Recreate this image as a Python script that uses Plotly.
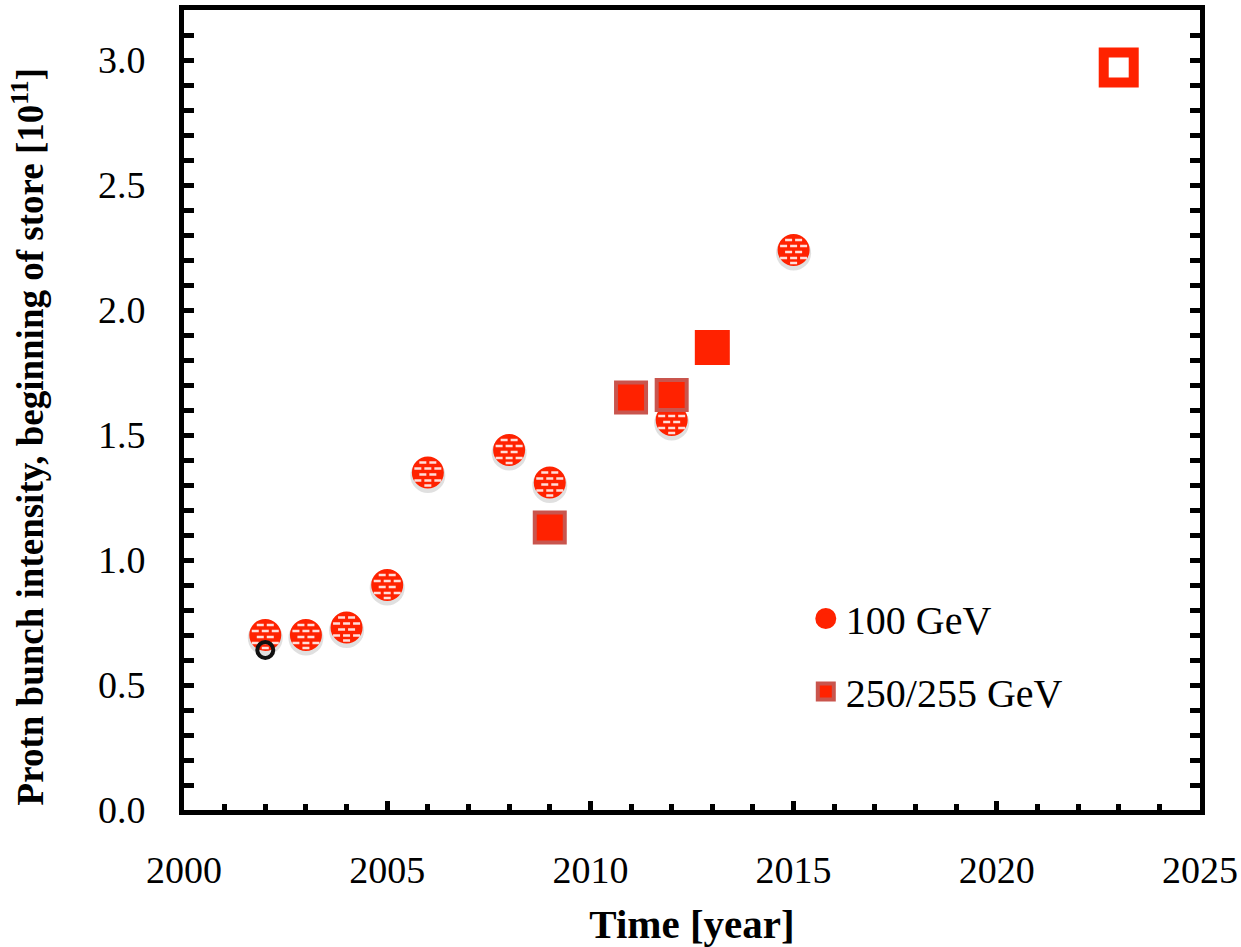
import plotly.graph_objects as go

# Proton bunch intensity at the beginning of store, in units of 1e11
years_100 = [2002, 2003, 2004, 2005, 2006, 2008, 2009, 2012, 2015]
intensity_100 = [0.70, 0.70, 0.73, 0.90, 1.35, 1.44, 1.31, 1.56, 2.24]

years_250 = [2009, 2011, 2012]
intensity_250 = [1.13, 1.65, 1.66]

years_250_new = [2013]
intensity_250_new = [1.85]

years_goal = [2023]
intensity_goal = [2.97]

years_extra = [2002]
intensity_extra = [0.64]

x_ticks = [2000, 2005, 2010, 2015, 2020, 2025]
y_ticks = [0.0, 0.5, 1.0, 1.5, 2.0, 2.5, 3.0]

RED = "#ff2200"
FONT = "Liberation Serif"

# pixel scale of the plot area, used to place the dotted texture on the circles
PX_PER_YEAR = 1016 / 25.0
PX_PER_UNIT = 800 / 3.2
dash_offsets = [(-5, -10), (5, -10), (-10, -4), (0, -4), (10, -4),
                (-5, 2), (5, 2), (-10, 8), (0, 8), (10, 8), (0, 13)]

tex_x, tex_y = [], []
for xv, yv in zip(years_100, intensity_100):
    for dx, dy in dash_offsets:
        tex_x.append(xv + dx / PX_PER_YEAR)
        tex_y.append(yv - dy / PX_PER_UNIT)

shadow_y = [v - 3 / PX_PER_UNIT for v in intensity_100]

fig = go.Figure()

# soft shadow under the circular markers
fig.add_trace(go.Scatter(
    x=years_100, y=shadow_y, mode="markers", showlegend=False, hoverinfo="skip",
    marker=dict(symbol="circle", size=35, color="rgba(60,60,60,0.16)", line=dict(width=0)),
))

fig.add_trace(go.Scatter(
    x=years_100, y=intensity_100, mode="markers", name="100 GeV",
    legendgroup="a",
    marker=dict(symbol="circle", size=27, color=RED, line=dict(color=RED, width=5)),
))

# white dash texture on the circles
fig.add_trace(go.Scatter(
    x=tex_x, y=tex_y, mode="markers", showlegend=False, hoverinfo="skip",
    marker=dict(symbol="line-ew", size=5, color="white",
                line=dict(color="rgba(255,255,255,0.85)", width=2.5)),
))

fig.add_trace(go.Scatter(
    x=years_extra, y=intensity_extra, mode="markers", showlegend=False,
    marker=dict(symbol="circle-open", size=16, color="#111111",
                line=dict(color="#111111", width=4)),
))

fig.add_trace(go.Scatter(
    x=years_250, y=intensity_250, mode="markers", name="250/255 GeV",
    legendgroup="b",
    marker=dict(symbol="square", size=30, color=RED,
                line=dict(color="#c9554d", width=4)),
))

fig.add_trace(go.Scatter(
    x=years_250_new, y=intensity_250_new, mode="markers", showlegend=False,
    legendgroup="b",
    marker=dict(symbol="square", size=35, color=RED, line=dict(width=0)),
))

fig.add_trace(go.Scatter(
    x=years_goal, y=intensity_goal, mode="markers", showlegend=False,
    marker=dict(symbol="square", size=30, color="white",
                line=dict(color=RED, width=10)),
))

axis_common = dict(
    showline=True, linecolor="black", linewidth=5, mirror=True,
    showgrid=False, zeroline=False, ticks="inside", tickcolor="black",
    automargin=False,
    tickfont=dict(family=FONT, size=38, color="black"),
)

fig.update_xaxes(
    **axis_common,
    range=[2000, 2025], tickvals=x_ticks, ticktext=[str(v) for v in x_ticks],
    ticklen=9, tickwidth=5, ticklabelstandoff=22,
    minor=dict(dtick=1, ticks="inside", ticklen=6, tickwidth=5, tickcolor="black"),
    title=dict(text="<b>Time [year]</b>", font=dict(family=FONT, size=41, color="black"),
               standoff=22),
)

fig.update_yaxes(
    **{**axis_common, "mirror": "allticks"},
    range=[0, 3.2], tickvals=y_ticks, ticktext=[f"{v:.1f}" for v in y_ticks],
    ticklen=10, tickwidth=5, ticklabelstandoff=26,
    minor=dict(dtick=0.1, ticks="inside", ticklen=10, tickwidth=5, tickcolor="black"),
)

# y-axis title placed as a rotated annotation
fig.add_annotation(
    text="<b>Protn bunch intensity, beginning of store [10<sup>11</sup>]</b>",
    xref="paper", yref="paper", x=-0.1535, y=0.467,
    xanchor="center", yanchor="middle", textangle=-90, showarrow=False,
    font=dict(family=FONT, size=37, color="black"),
)

fig.update_layout(
    width=1241, height=947,
    margin=dict(l=184, r=41, t=10, b=137),
    paper_bgcolor="white", plot_bgcolor="white",
    showlegend=True,
    legend=dict(x=0.612, y=0.28, xanchor="left", yanchor="top",
                bgcolor="rgba(0,0,0,0)", borderwidth=0,
                font=dict(family=FONT, size=40, color="black"),
                tracegroupgap=18, itemsizing="trace"),
)

fig.write_html("out.html")
